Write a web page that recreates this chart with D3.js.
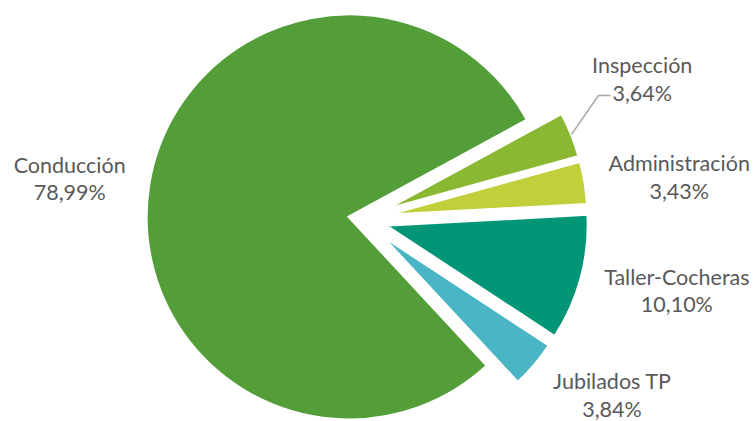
<!DOCTYPE html>
<html>
<head>
<meta charset="utf-8">
<script src="https://cdn.jsdelivr.net/npm/d3@7"></script>
<style>
  body { margin: 0; background: #fff; }
  text { font-family: Lato, "Open Sans", sans-serif; fill: #595959; }
</style>
</head>
<body>
<script>
// data (order as in the source sheet)
let categories = ["Conducción", "Inspección", "Administración", "Taller-Cocheras", "Jubilados TP"];
let values = [78.99, 3.64, 3.43, 10.10, 3.84];
let colors = ["#549E39", "#8AB833", "#C0CF3A", "#029676", "#4AB5C4"];

let width = 755, height = 421;
let center = { x: 362, y: 219 };
let radius = 203;
let first_angle = 137.1; // degrees, clockwise from top
let explode = [13, 23, 23, 24, 23];
// label placement relative to each exploded slice: [distance, angle nudge in degrees]
let label_place = [[282, -1.6], [290, -4.8], [297, 1.9], [299, -2.4], [283, -5.4]];
let font_size = 21.5, line_gap = 27.5;

const rad = Math.PI / 180;
let fmt = v => v.toFixed(2).replace(".", ",") + "%";

let svg = d3.select("body")
  .append("svg")
    .attr("width", width)
    .attr("height", height);

let pie = d3.pie()
  .sort(null)
  .value(d => d)
  .startAngle(first_angle * rad)
  .endAngle(first_angle * rad + 2 * Math.PI);

let arc = d3.arc().innerRadius(0).outerRadius(radius);
let arcs = pie(values);

function polar(r, a) {
  return [r * Math.sin(a), -r * Math.cos(a)];
}

let slices = svg.append("g")
  .attr("transform", `translate(${center.x},${center.y})`);

arcs.forEach((d, i) => {
  let mid = (d.startAngle + d.endAngle) / 2;
  let off = polar(explode[i], mid);
  d.cx = off[0];
  d.cy = off[1];
  d.mid = mid;
});

slices.selectAll("path")
  .data(arcs)
  .join("path")
    .attr("d", arc)
    .attr("transform", d => `translate(${d.cx},${d.cy})`)
    .attr("fill", (d, i) => colors[i])
    .attr("stroke", "#fff")
    .attr("stroke-width", 3)
    .attr("stroke-linejoin", "miter");

// labels
let labels = slices.selectAll("g.label")
  .data(arcs)
  .join("g")
    .attr("class", "label")
    .attr("transform", (d, i) => {
      let p = polar(label_place[i][0], d.mid + label_place[i][1] * rad);
      d.lx = d.cx + p[0];
      d.ly = d.cy + p[1];
      return `translate(${d.lx},${d.ly})`;
    });

labels.append("text")
  .attr("text-anchor", "middle")
  .attr("font-size", font_size)
  .attr("y", -line_gap / 2)
  .attr("dy", "0.35em")
  .text((d, i) => categories[i]);

labels.append("text")
  .attr("class", "pct")
  .attr("text-anchor", "middle")
  .attr("font-size", font_size)
  .attr("y", line_gap / 2)
  .attr("dy", "0.35em")
  .text((d, i) => fmt(values[i]));

// leader line for Inspección (label moved away from its slice)
let k = 1;
let lead = arcs[k];
let pctText = labels.filter((d, i) => i === k).select("text.pct").node();
let pw = pctText.getComputedTextLength();
let start = polar(radius, lead.mid);
let sx = lead.cx + start[0], sy = lead.cy + start[1];
let ex = lead.lx - pw / 2 - 2, ey = lead.ly + line_gap / 2 + 2;
slices.append("polyline")
  .attr("points", [[sx, sy], [ex - 12, ey], [ex, ey]].map(p => p.join(",")).join(" "))
  .attr("fill", "none")
  .attr("stroke", "#A6A6A6")
  .attr("stroke-width", 1.5);
</script>
</body>
</html>
